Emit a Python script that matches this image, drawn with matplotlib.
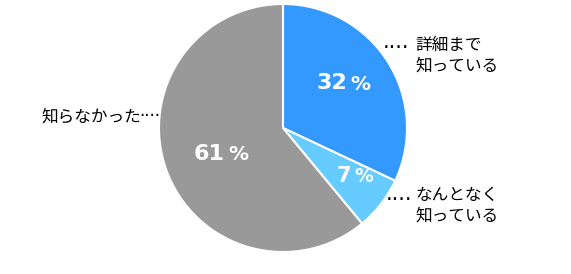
import matplotlib
matplotlib.use("Agg")
import matplotlib.pyplot as plt

plt.rcParams['font.family'] = ['Noto Sans CJK JP', 'DejaVu Sans']

categories = ["詳細まで\n知っている", "なんとなく\n知っている", "知らなかった"]
values = [32, 7, 61]
colors = ["#3399FF", "#66CCFF", "#999999"]

W, H = 571, 274
fig = plt.figure(figsize=(W / 100, H / 100), dpi=100)
ax = fig.add_axes([0, 0, 1, 1])

cx, cy, r = 283, H - 128, 124
wedges, _ = ax.pie(values, colors=colors, startangle=90, counterclock=False,
                   center=(cx, cy), radius=r, frame=True,
                   wedgeprops=dict(edgecolor='white', linewidth=1.5))
ax.set_xlim(0, W)
ax.set_ylim(0, H)
ax.set_aspect('equal')
ax.axis('off')

# percentage labels (number + smaller %)
pct_pos = [(347, H - 83), (351, H - 176), (225, H - 154)]
num_size = [16, 15, 16]
for v, (x, y), fs in zip(values, pct_pos, num_size):
    ax.text(x, y, f"{v}", color='white', fontsize=fs, fontweight='bold',
            family='DejaVu Sans', ha='right', va='center')
    ax.text(x + 3, y - 1, "%", color='white', fontsize=fs * 0.9,
            fontweight='bold', family='DejaVu Sans', ha='left', va='center')

# category labels with leader dots
lab_pos = [(383, H - 56, H - 48, 'left'), (386, H - 206, H - 200, 'left'),
           (160, H - 117, H - 116, 'right')]
for cat, (x, y, yd, ha) in zip(categories, lab_pos):
    if ha == 'left':
        ax.text(x, yd, "····", fontsize=15, ha='left', va='center',
                family='DejaVu Sans', color='black')
        ax.text(415, y, cat, fontsize=12, ha='left', va='center',
                linespacing=1.3, color='black')
    else:
        ax.text(x - 19, y, cat, fontsize=12, ha='right', va='center', color='black')
        ax.text(x, yd, "····", fontsize=12, ha='right', va='center',
                family='DejaVu Sans', color='black')

fig.savefig("out.png", dpi=100)
